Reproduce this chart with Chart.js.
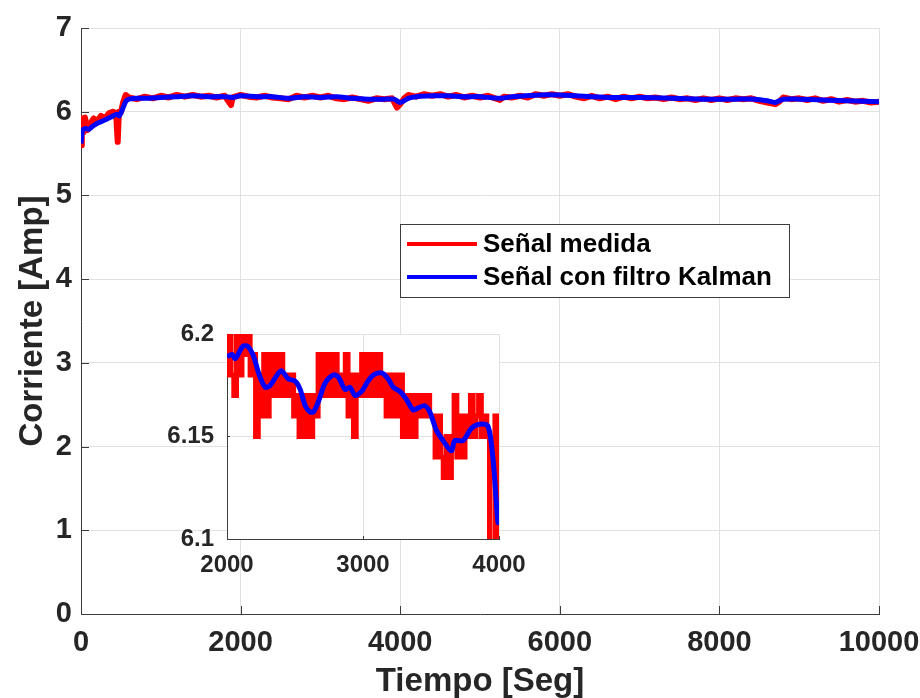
<!DOCTYPE html>
<html>
<head>
<meta charset="utf-8">
<title>Corriente medida y filtrada</title>
<script src="https://cdn.jsdelivr.net/npm/chart.js@4.4.1/dist/chart.umd.min.js"></script>
<style>
  html, body { margin: 0; padding: 0; background: #fff; }
  #wrap { position: relative; width: 920px; height: 698px; overflow: hidden; }
  #main { position: absolute; left: 0; top: 0; }
  #inset { position: absolute; left: 140px; top: 300px; }
</style>
</head>
<body>
<div id="wrap">
  <canvas id="main" width="920" height="698"></canvas>
  <canvas id="inset" width="400" height="290"></canvas>
</div>
<script>
// main plot: measured signal (red)
const redTime = [
  0, 10, 30, 50, 80, 120, 160, 200, 250, 300, 350, 400, 440, 460, 475, 500, 530, 560, 600,
  700, 800, 900, 1000, 1100, 1200, 1300, 1400, 1500, 1600, 1700, 1800, 1880, 1900,
  2000, 2100, 2200, 2300, 2400, 2500, 2600, 2700, 2800, 2900, 3000, 3100, 3200, 3300,
  3400, 3500, 3600, 3700, 3800, 3900, 3960, 4000, 4050, 4100, 4200, 4300, 4400, 4500,
  4600, 4700, 4800, 4900, 5000, 5100, 5250, 5300, 5400, 5500, 5600, 5700, 5800, 5900,
  6000, 6100, 6200, 6300, 6400, 6500, 6600, 6700, 6800, 6900, 7000, 7100, 7200, 7300,
  7400, 7500, 7600, 7700, 7800, 7900, 8000, 8100, 8200, 8300, 8400, 8500, 8600, 8700,
  8750, 8800, 8900, 9000, 9100, 9200, 9300, 9400, 9500, 9600, 9700, 9800, 9900, 10000
];
const redValue = [
  5.60, 5.92, 5.75, 5.93, 5.78, 5.86, 5.92, 5.88, 5.95, 5.92, 5.98, 6.00, 5.98, 5.64, 6.00, 5.99, 6.12, 6.20, 6.17,
  6.15, 6.18, 6.16, 6.19, 6.17, 6.20, 6.18, 6.20, 6.18, 6.19, 6.17, 6.19, 6.08, 6.17,
  6.20, 6.18, 6.17, 6.19, 6.17, 6.16, 6.15, 6.19, 6.17, 6.19, 6.17, 6.19, 6.16, 6.15,
  6.17, 6.15, 6.13, 6.16, 6.15, 6.16, 6.05, 6.09, 6.16, 6.20, 6.18, 6.21, 6.19, 6.21,
  6.18, 6.20, 6.17, 6.19, 6.17, 6.19, 6.14, 6.18, 6.17, 6.19, 6.17, 6.21, 6.19, 6.21,
  6.19, 6.21, 6.18, 6.16, 6.19, 6.16, 6.18, 6.15, 6.18, 6.16, 6.18, 6.16, 6.17, 6.15,
  6.17, 6.15, 6.16, 6.14, 6.16, 6.14, 6.16, 6.14, 6.16, 6.15, 6.16, 6.13, 6.11, 6.09,
  6.12, 6.17, 6.15, 6.16, 6.14, 6.16, 6.13, 6.15, 6.12, 6.14, 6.12, 6.13, 6.11, 6.12
];

// main plot: Kalman filtered signal (blue)
const kalmanTime = [
  0, 20, 60, 100, 150, 200, 300, 400, 450, 480, 520, 560, 600, 700, 800, 1000, 1200,
  1400, 1600, 1800, 1900, 2000, 2200, 2400, 2600, 2800, 3000, 3200, 3400, 3600, 3800,
  3920, 4000, 4100, 4200, 4400, 4600, 4800, 5000, 5250, 5400, 5750, 6000, 6200, 6600,
  7000, 7400, 7800, 8200, 8450, 8600, 8700, 8800, 9000, 9300, 9600, 10000
];
const kalmanValue = [
  5.62, 5.78, 5.80, 5.79, 5.83, 5.86, 5.90, 5.95, 5.97, 5.95, 6.03, 6.12, 6.15, 6.16, 6.16, 6.17, 6.18,
  6.19, 6.18, 6.18, 6.17, 6.19, 6.18, 6.18, 6.16, 6.18, 6.17, 6.18, 6.16, 6.15, 6.15,
  6.15, 6.11, 6.16, 6.18, 6.19, 6.19, 6.18, 6.18, 6.16, 6.18, 6.20, 6.20, 6.19, 6.17,
  6.17, 6.16, 6.15, 6.15, 6.15, 6.13, 6.11, 6.15, 6.15, 6.14, 6.13, 6.12
];

// inset (2000-4000 s): measured signal
const insetRedTime = [
  2000, 2020, 2040, 2060, 2080, 2100, 2120, 2140, 2160, 2180,
  2200, 2220, 2240, 2260, 2280, 2300, 2320, 2340, 2360, 2380,
  2400, 2420, 2440, 2460, 2480, 2500, 2520, 2540, 2560, 2580,
  2600, 2620, 2640, 2660, 2680, 2700, 2720, 2740, 2760, 2780,
  2800, 2820, 2840, 2860, 2880, 2900, 2920, 2940, 2960, 2980,
  3000, 3020, 3040, 3060, 3080, 3100, 3120, 3140, 3160, 3180,
  3200, 3220, 3240, 3260, 3280, 3300, 3320, 3340, 3360, 3380,
  3400, 3420, 3440, 3460, 3480, 3500, 3520, 3540, 3560, 3580,
  3600, 3620, 3640, 3660, 3680, 3700, 3720, 3740, 3760, 3780,
  3800, 3820, 3840, 3860, 3880, 3900, 3920, 3940, 3960, 3980,
  4000
];
const insetRedValue = [
  6.18, 6.20, 6.18, 6.17, 6.20, 6.18, 6.20, 6.19, 6.20, 6.18,
  6.19, 6.15, 6.18, 6.16, 6.19, 6.16, 6.19, 6.17, 6.19, 6.17,
  6.19, 6.17, 6.18, 6.17, 6.18, 6.16, 6.17, 6.15, 6.17, 6.15,
  6.17, 6.15, 6.17, 6.16, 6.19, 6.17, 6.19, 6.17, 6.19, 6.17,
  6.19, 6.17, 6.18, 6.17, 6.19, 6.16, 6.18, 6.15, 6.18, 6.17,
  6.19, 6.17, 6.19, 6.17, 6.19, 6.17, 6.19, 6.17, 6.18, 6.16,
  6.18, 6.16, 6.18, 6.16, 6.18, 6.15, 6.17, 6.15, 6.17, 6.15,
  6.17, 6.16, 6.17, 6.16, 6.17, 6.16, 6.16, 6.14, 6.16, 6.14,
  6.13, 6.15, 6.13, 6.15, 6.17, 6.14, 6.16, 6.14, 6.16, 6.15,
  6.17, 6.15, 6.16, 6.17, 6.15, 6.16, 6.15, 6.09, 6.09, 6.16,
  6.09
];

// inset: Kalman filtered signal
const insetKalmanTime = [
  2000, 2037, 2061, 2117, 2152, 2196, 2232, 2281, 2318, 2379, 2403, 2452, 2501, 2538,
  2575, 2611, 2636, 2672, 2721, 2782, 2819, 2868, 2905, 2941, 2990, 3027, 3076, 3137,
  3186, 3222, 3271, 3320, 3369, 3406, 3455, 3491, 3540, 3589, 3650, 3675, 3736, 3797,
  3858, 3919, 3956, 3980, 3993, 4000
];
const insetKalmanValue = [
  6.189, 6.190, 6.188, 6.194, 6.194, 6.189, 6.181, 6.174, 6.175, 6.181, 6.182, 6.178, 6.177, 6.173,
  6.165, 6.162, 6.162, 6.167, 6.176, 6.180, 6.179, 6.173, 6.174, 6.170, 6.172, 6.176, 6.180, 6.181,
  6.178, 6.174, 6.172, 6.168, 6.163, 6.164, 6.165, 6.162, 6.153, 6.148, 6.143, 6.148, 6.148, 6.154,
  6.156, 6.155, 6.139, 6.118, 6.108, 6.113
];

const seriesLabels = ['Señal medida', 'Señal con filtro Kalman'];
const seriesColors = ['#ff0000', '#0000ff'];

const textColor = '#262626';
const axisColor = '#3c3c3c';
const gridColor = '#e1e1e1';
const family = "'Liberation Sans', Arial, sans-serif";

const toPoints = (xs, ys) => xs.map((x, i) => ({ x: x, y: ys[i] }));
const fmt = v => String(+v.toFixed(2));

// keep the plot box where layout.padding puts it (no extra room for end labels)
const noPadX = s => { s.paddingLeft = 0; s.paddingRight = 0; };
const noPadY = s => { s.paddingTop = 0; s.paddingBottom = 0; };

function inwardTicks(len) {
  return {
    id: 'inwardTicks',
    beforeDatasetsDraw(chart) {
      const { ctx, chartArea, scales } = chart;
      ctx.save();
      ctx.strokeStyle = axisColor;
      ctx.lineWidth = 1;
      ctx.beginPath();
      scales.x.ticks.forEach(t => {
        const px = Math.round(scales.x.getPixelForValue(t.value)) + 0.5;
        ctx.moveTo(px, chartArea.bottom);
        ctx.lineTo(px, chartArea.bottom - len);
      });
      scales.y.ticks.forEach(t => {
        const py = Math.round(scales.y.getPixelForValue(t.value)) + 0.5;
        ctx.moveTo(chartArea.left, py);
        ctx.lineTo(chartArea.left + len, py);
      });
      ctx.stroke();
      ctx.restore();
    }
  };
}

const legendBox = {
  id: 'legendBox',
  afterDraw(chart) {
    const { ctx, chartArea } = chart;
    const x0 = chartArea.left + 319, y0 = chartArea.top + 196;
    const w = 389, h = 73;
    ctx.save();
    ctx.fillStyle = '#fff';
    ctx.fillRect(x0, y0, w, h);
    ctx.strokeStyle = axisColor;
    ctx.lineWidth = 1;
    ctx.strokeRect(x0 + 0.5, y0 + 0.5, w, h);
    ctx.font = 'bold 26px ' + family;
    ctx.textBaseline = 'middle';
    ctx.fillStyle = '#000';
    seriesLabels.forEach((label, i) => {
      const y = y0 + 20 + i * 33;
      ctx.strokeStyle = seriesColors[i];
      ctx.lineWidth = 4;
      ctx.beginPath();
      ctx.moveTo(x0 + 7, y);
      ctx.lineTo(x0 + 77, y);
      ctx.stroke();
      ctx.fillText(label, x0 + 83, y + 1);
    });
    ctx.restore();
  }
};

const whiteArea = {
  id: 'whiteArea',
  beforeDraw(chart) {
    const { ctx, chartArea } = chart;
    ctx.save();
    ctx.fillStyle = '#fff';
    ctx.fillRect(chartArea.left, chartArea.top, chartArea.right - chartArea.left, chartArea.bottom - chartArea.top);
    ctx.restore();
  }
};

new Chart(document.getElementById('main'), {
  type: 'line',
  data: {
    datasets: [
      { label: seriesLabels[0], data: toPoints(redTime, redValue), borderColor: seriesColors[0],
        borderWidth: 6, borderJoinStyle: 'round', pointRadius: 0, tension: 0, order: 2 },
      { label: seriesLabels[1], data: toPoints(kalmanTime, kalmanValue), borderColor: seriesColors[1],
        borderWidth: 5, borderJoinStyle: 'round', pointRadius: 0, tension: 0.2, order: 1 }
    ]
  },
  options: {
    responsive: false,
    animation: false,
    devicePixelRatio: 1,
    layout: { padding: { top: 28, right: 41, left: 0, bottom: 0 } },
    plugins: { legend: { display: false }, tooltip: { enabled: false } },
    scales: {
      x: {
        type: 'linear', min: 0, max: 10000,
        ticks: { stepSize: 2000, autoSkip: false, maxRotation: 0, padding: 12, color: textColor,
          callback: fmt, font: { family: family, weight: 'bold', size: 29 } },
        grid: { color: gridColor, drawTicks: false },
        border: { color: axisColor },
        title: { display: true, text: 'Tiempo [Seg]', color: textColor,
          font: { family: family, weight: 'bold', size: 33, lineHeight: 1 }, padding: { top: 0, bottom: 0 } },
        afterFit: s => { s.height = 84; noPadX(s); }
      },
      y: {
        type: 'linear', min: 0, max: 7,
        ticks: { stepSize: 1, padding: 9, color: textColor, callback: fmt,
          font: { family: family, weight: 'bold', size: 29 } },
        grid: { color: gridColor, drawTicks: false },
        border: { color: axisColor },
        title: { display: true, text: 'Corriente [Amp]', color: textColor,
          font: { family: family, weight: 'bold', size: 33, lineHeight: 1 }, padding: { top: 16, bottom: 0 } },
        afterFit: s => { s.width = 81; noPadY(s); }
      }
    }
  },
  plugins: [inwardTicks(8), legendBox]
});

new Chart(document.getElementById('inset'), {
  type: 'line',
  data: {
    datasets: [
      { label: seriesLabels[0], data: toPoints(insetRedTime, insetRedValue), borderColor: seriesColors[0],
        borderWidth: 5, pointRadius: 0, stepped: 'middle', order: 2 },
      { label: seriesLabels[1], data: toPoints(insetKalmanTime, insetKalmanValue), borderColor: seriesColors[1],
        borderWidth: 5, borderJoinStyle: 'round', pointRadius: 0, tension: 0.3, order: 1 }
    ]
  },
  options: {
    responsive: false,
    animation: false,
    devicePixelRatio: 1,
    layout: { padding: { top: 34, right: 41, left: 0, bottom: 0 } },
    plugins: { legend: { display: false }, tooltip: { enabled: false } },
    scales: {
      x: {
        type: 'linear', min: 2000, max: 4000,
        ticks: { stepSize: 1000, autoSkip: false, maxRotation: 0, padding: 12, color: textColor,
          callback: fmt, font: { family: family, weight: 'bold', size: 24 } },
        grid: { color: gridColor, drawTicks: false },
        border: { color: axisColor },
        afterFit: s => { s.height = 51; noPadX(s); }
      },
      y: {
        type: 'linear', min: 6.1, max: 6.2,
        ticks: { stepSize: 0.05, padding: 13, color: textColor, callback: fmt,
          font: { family: family, weight: 'bold', size: 24 } },
        grid: { color: gridColor, drawTicks: false },
        border: { color: axisColor },
        afterFit: s => { s.width = 87; noPadY(s); }
      }
    }
  },
  plugins: [whiteArea, inwardTicks(3)]
});
</script>
</body>
</html>
